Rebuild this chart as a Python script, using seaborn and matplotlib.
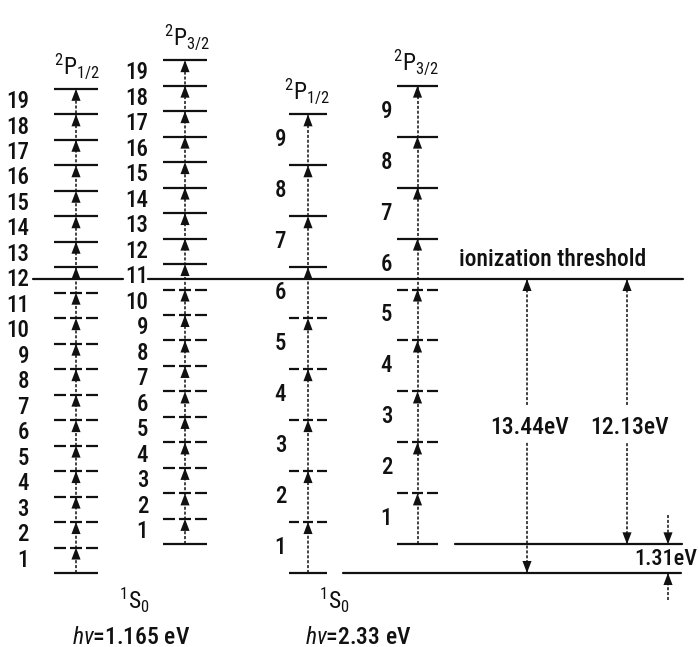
import numpy as np
import pandas as pd
import matplotlib
matplotlib.use("Agg")
import matplotlib.pyplot as plt
from matplotlib import font_manager as fm
from matplotlib.markers import MarkerStyle
from matplotlib.path import Path
import seaborn as sns

# ---------------- data ----------------
col_mult = ["2", "2", "2", "2"]
col_letter = ["P", "P", "P", "P"]
col_j = ["1/2", "3/2", "1/2", "3/2"]
col_start = [0.0, 1.31, 0.0, 1.31]          # eV, level the ladder starts from
col_photon = [1.165, 1.165, 2.33, 2.33]     # eV, photon energy
col_nmax = [19, 19, 9, 9]                   # number of photons drawn
ionization_energy = 13.44                   # eV above 1S0
upper_gap = 12.13                           # eV from excited level
excited_energy = 1.31                       # eV
ground_term = ("1", "S", "0")
photon_groups = [1.165, 2.33]

# ---------------- style / layout ----------------
sns.set_theme(style="white")
names = {f.name for f in fm.fontManager.ttflist}
font = "DejaVu Sans"
for cand in ["Roboto Condensed", "Liberation Sans Narrow", "Open Sans Condensed", "Roboto"]:
    if cand in names:
        font = cand
        break
stretch = "normal"
if font == "DejaVu Sans":
    if any(f.name == "DejaVu Sans" and f.stretch == "condensed" for f in fm.fontManager.ttflist):
        stretch = "condensed"
plt.rcParams["font.family"] = [font, "DejaVu Sans"]
plt.rcParams["mathtext.fontset"] = "custom"
plt.rcParams["mathtext.rm"] = font
plt.rcParams["mathtext.it"] = font + ":italic"

W, H = 699, 647
PX_PER_EV = 21.875
Y0 = 573  # pixel row of 0 eV


def E(py):
    return (Y0 - py) / PX_PER_EV


fig = plt.figure(figsize=(W / 100, H / 100), dpi=100)
ax = fig.add_axes([0, 0, 1, 1])
ax.set_xlim(0, W)
ax.set_ylim(E(H), E(0))
ax.axis("off")

col_x0 = [54, 163, 289, 397]
col_x1 = [98, 207, 327, 438]
col_lab_x = [29, 148, 286, 392]
col_term_x = [77, 187, 307, 416]
lw = 1.6
k = "#111111"
fw = "medium"

up_head = MarkerStyle(Path([(0, 0), (-0.38, -1), (0.38, -1), (0, 0)], closed=True))
dn_head = MarkerStyle(Path([(0, 0), (-0.38, 1), (0.38, 1), (0, 0)], closed=True))
S_HEAD = 300
ladder_ls = (0, (2.0, 1.2))

rows = []
for c in range(4):
    for n in range(0, col_nmax[c] + 1):
        rows.append(dict(col=c, n=n, E=col_start[c] + n * col_photon[c]))
levels = pd.DataFrame(rows)

fs_num = 16.5
for c in range(4):
    d = levels[levels.col == c]
    x0, x1 = col_x0[c], col_x1[c]
    xc = 0.5 * (x0 + x1)
    w = x1 - x0
    gap = 4.0
    dash_px = (w - 2 * gap) / 3
    dashpat = (0, (dash_px / (lw * 100 / 72), gap / (lw * 100 / 72)))
    for _, r in d.iterrows():
        if r.n == 0 or r.E > ionization_energy:
            ax.plot([x0, x1], [r.E, r.E], color=k, lw=lw, solid_capstyle="butt")
        else:
            ax.plot([x0, x1], [r.E, r.E], color=k, lw=lw, linestyle=dashpat)
    # vertical dotted photon ladder
    ax.plot([xc, xc], [d.E.min(), d.E.max()], color=k, lw=1.1, linestyle=ladder_ls)
    heads = d[d.n > 0]
    sns.scatterplot(x=np.full(len(heads), xc), y=heads.E.values, marker=up_head,
                    s=S_HEAD, color=k, edgecolor="none", ax=ax, legend=False, zorder=5)
    # number labels between levels
    for n in range(1, col_nmax[c] + 1):
        ym = col_start[c] + (n - 0.5) * col_photon[c]
        ax.text(col_lab_x[c], ym, str(n), ha="right", va="center", fontsize=fs_num,
                color=k, fontstretch=stretch, fontweight=fw)
    top = d.E.max()
    ax.text(col_term_x[c], top + 23 / PX_PER_EV,
            r"$^{%s}\mathrm{%s}_{%s}$" % (col_mult[c], col_letter[c], col_j[c]),
            ha="center", va="center", fontsize=17, color=k)

# ionization threshold (broken around the column labels)
for xa, xb in [(33, 123), (148, 683)]:
    ax.plot([xa, xb], [ionization_energy, ionization_energy], color=k, lw=lw)
# extended ground and excited lines
ax.plot([343, 681], [0, 0], color=k, lw=lw)
ax.plot([455, 682], [excited_energy, excited_energy], color=k, lw=lw)

ax.text(553, E(260), "ionization threshold", ha="center", va="center", fontsize=17,
        color=k, fontstretch=stretch, fontweight=fw)

# energy difference arrows
y_txt = E(427)
gap_lo, gap_hi = E(442), E(405)
for xa, lo, val in [(527, 0.0, ionization_energy), (627, excited_energy, upper_gap)]:
    ax.plot([xa, xa], [lo, gap_lo], color=k, lw=1.1, linestyle=ladder_ls)
    ax.plot([xa, xa], [gap_hi, ionization_energy], color=k, lw=1.1, linestyle=ladder_ls)
    sns.scatterplot(x=[xa], y=[ionization_energy], marker=up_head, s=S_HEAD, color=k,
                    edgecolor="none", ax=ax, legend=False, zorder=5)
    sns.scatterplot(x=[xa], y=[lo], marker=dn_head, s=S_HEAD, color=k,
                    edgecolor="none", ax=ax, legend=False, zorder=5)
    ax.text(xa + 3, y_txt, f"{val:.2f}eV", ha="center", va="center", fontsize=17,
            color=k, fontstretch=stretch, fontweight=fw)

# 1.31 eV gap arrows
xg = 668
ax.plot([xg, xg], [E(515), excited_energy], color=k, lw=1.1, linestyle=ladder_ls)
ax.plot([xg, xg], [E(600), 0.0], color=k, lw=1.1, linestyle=ladder_ls)
sns.scatterplot(x=[xg], y=[excited_energy], marker=dn_head, s=S_HEAD, color=k,
                edgecolor="none", ax=ax, legend=False, zorder=5)
sns.scatterplot(x=[xg], y=[0.0], marker=up_head, s=S_HEAD, color=k,
                edgecolor="none", ax=ax, legend=False, zorder=5)
ax.text(697, E(559), f"{excited_energy:.2f}eV", ha="right", va="center", fontsize=16,
        color=k, fontstretch=stretch, fontweight=fw)

# ground term and photon energy labels
for xs, xh, hv in [(134, 131, photon_groups[0]), (334, 358, photon_groups[1])]:
    ax.text(xs, E(600), r"$^{%s}\mathrm{%s}_{%s}$" % ground_term,
            ha="center", va="center", fontsize=17, color=k)
    ax.text(xh, E(637), r"$h\nu$=" + f"{hv:g} eV", ha="center", va="center", fontsize=17,
            color=k, fontstretch=stretch, fontweight=fw)

fig.savefig("out.png", dpi=100, facecolor="white")
